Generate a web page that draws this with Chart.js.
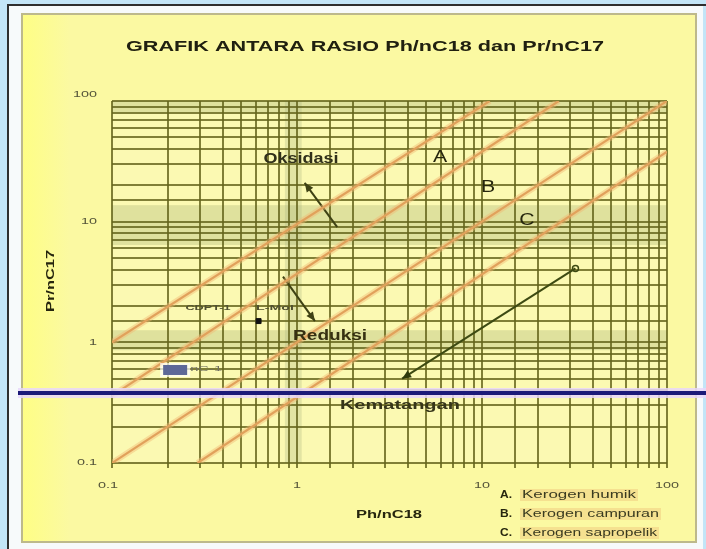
<!DOCTYPE html>
<html><head><meta charset="utf-8">
<script src="https://cdn.jsdelivr.net/npm/chart.js@4/dist/chart.umd.min.js"></script>
<style>
html,body{margin:0;padding:0;background:#c3e5f7;overflow:hidden}
canvas{display:block}
</style></head><body>
<canvas id="c" width="706" height="549"></canvas>
<script>
// ---- text ----
const titleText = 'GRAFIK ANTARA RASIO Ph/nC18 dan Pr/nC17';
const xTitle = 'Ph/nC18';
const yTitle = 'Pr/nC17';
const xTickValues = [0.1, 1, 10, 100];
const xTickLabels = ['0.1', '1', '10', '100'];
const yTickValues = [0.1, 1, 10, 100];
const yTickLabels = ['0.1', '1', '10', '100'];
const fieldLetters = ['A', 'B', 'C'];
const legendKeys = ['A.', 'B.', 'C.'];
const legendNames = ['Kerogen humik', 'Kerogen campuran', 'Kerogen sapropelik'];

// ---- boundary lines between kerogen fields, [Ph/nC18, Pr/nC17] ----
const boundary1 = [[0.1, 1], [11, 100]];
const boundary2 = [[0.1, 0.36], [26, 100]];
const boundary3 = [[0.1, 0.1], [100, 100]];
const boundary4 = [[0.29, 0.1], [100, 38]];

// ---- trend arrows, [tail, head] ----
const arrowOksidasi = [[1.65, 9.0], [1.1, 21]];
const arrowReduksi = [[0.84, 3.5], [1.25, 1.5]];
const arrowKematangan = [[32, 4.1], [3.7, 0.5]];

// ---- samples ----
const sampleX = [0.62];
const sampleY = [1.5];
const sampleNames = ['CDPT-1', 'L-Mol'];

// ---- shaded bands of the grid ----
const yBands = [[6.4, 13.7], [0.86, 1.26], [81, 100]];
const xBands = [[0.86, 1.06]];

const pts = arr => arr.map(([x, y]) => ({x, y}));
const gridColor = 'rgba(100,100,28,0.82)';
const ink = '#26260e';

function lineSet(data, color, width) {
  return {type: 'line', data: pts(data), borderColor: color, borderWidth: width,
    pointRadius: 0, fill: false, tension: 0};
}
const halo = 'rgba(242,185,115,0.45)';
const core = '#d38f48';
const arrowInk = '#3f4214';

const datasets = [];
[boundary1, boundary2, boundary3, boundary4].forEach(b => {
  datasets.push(lineSet(b, halo, 6));
  datasets.push(lineSet(b, core, 2.2));
});
datasets.push(lineSet(arrowOksidasi, arrowInk, 2));
datasets.push(lineSet(arrowReduksi, arrowInk, 2));
const kem = lineSet(arrowKematangan, '#3d4a12', 2);
kem.pointRadius = [3, 0]; kem.pointBackgroundColor = 'rgba(0,0,0,0)';
kem.pointBorderColor = '#3d4a12'; kem.pointBorderWidth = 1.5;
datasets.push(kem);
datasets.push({type: 'scatter', data: sampleX.map((x, i) => ({x, y: sampleY[i]})),
  pointStyle: 'rect', pointRadius: 3.5, backgroundColor: '#111', borderColor: '#111'});

function stext(ctx, txt, cx, cy, opt) {
  ctx.save();
  ctx.font = opt.font; ctx.fillStyle = opt.color || ink;
  ctx.textAlign = opt.align || 'center'; ctx.textBaseline = 'middle';
  const m = ctx.measureText(txt).width;
  ctx.translate(cx, cy);
  if (opt.rot) ctx.rotate(opt.rot);
  const sx = opt.w ? opt.w / m : (opt.sx || 1);
  ctx.scale(sx, 1);
  ctx.fillText(txt, 0, 0);
  ctx.restore();
}

function arrowHead(ctx, x0, y0, x1, y1, color) {
  const a = Math.atan2(y1 - y0, x1 - x0), L = 9, W = 4;
  ctx.save(); ctx.fillStyle = color; ctx.beginPath();
  ctx.moveTo(x1, y1);
  ctx.lineTo(x1 - L * Math.cos(a) + W * Math.sin(a), y1 - L * Math.sin(a) - W * Math.cos(a));
  ctx.lineTo(x1 - L * Math.cos(a) - W * Math.sin(a), y1 - L * Math.sin(a) + W * Math.cos(a));
  ctx.closePath(); ctx.fill(); ctx.restore();
}

const framePlugin = {
  id: 'frame',
  beforeDraw(chart) {
    const ctx = chart.ctx, a = chart.chartArea, sx = chart.scales.x, sy = chart.scales.y;
    ctx.save();
    ctx.fillStyle = '#c3e5f7'; ctx.fillRect(0, 0, 706, 549);
    ctx.fillStyle = '#f7fafb'; ctx.fillRect(9, 6, 694, 543);
    ctx.fillStyle = '#2e2e2e'; ctx.fillRect(7, 4, 2, 545); ctx.fillRect(7, 4, 699, 2);
    // yellow panel
    const g = ctx.createLinearGradient(21, 0, 70, 0);
    g.addColorStop(0, '#fefe84'); g.addColorStop(1, '#fbf9a2');
    ctx.fillStyle = g; ctx.fillRect(21, 13, 676, 530);
    ctx.strokeStyle = '#bdb98c'; ctx.lineWidth = 2; ctx.strokeRect(22, 14, 674, 528);
    // plot field
    ctx.fillStyle = '#fbf9b2'; ctx.fillRect(a.left, a.top, a.right - a.left, a.bottom - a.top);
    ctx.fillStyle = 'rgba(150,165,105,0.28)';
    yBands.forEach(([lo, hi]) => {
      const t = sy.getPixelForValue(hi), b = sy.getPixelForValue(lo);
      ctx.fillRect(a.left, t, a.right - a.left, b - t);
    });
    ctx.fillStyle = 'rgba(170,180,130,0.30)';
    xBands.forEach(([lo, hi]) => {
      const l = sx.getPixelForValue(lo), r = sx.getPixelForValue(hi);
      ctx.fillRect(l, a.top, r - l, a.bottom - a.top);
    });
    ctx.restore();
  },
  afterDatasetsDraw(chart) {
    const ctx = chart.ctx, a = chart.chartArea, sx = chart.scales.x, sy = chart.scales.y;
    const P = (x, y) => [sx.getPixelForValue(x), sy.getPixelForValue(y)];
    // arrow heads
    [[arrowOksidasi, arrowInk], [arrowReduksi, arrowInk], [arrowKematangan, '#2f3a0c']].forEach(([ar, c]) => {
      const [x0, y0] = P(ar[0][0], ar[0][1]), [x1, y1] = P(ar[1][0], ar[1][1]);
      arrowHead(ctx, x0, y0, x1, y1, c);
    });
    // field letters
    const letterPos = [[5.93, 34.3], [10.8, 19.4], [17.5, 10.3]];
    fieldLetters.forEach((t, i) => {
      const [x, y] = P(...letterPos[i]);
      stext(ctx, t, x, y, {font: '17px "Liberation Sans"', sx: 1.25});
    });
    // trend labels
    let p = P(1.05, 33);
    stext(ctx, 'Oksidasi', p[0], p[1], {font: 'bold 14px "Liberation Sans"', w: 75, color: '#30301a'});
    p = P(1.51, 1.13);
    stext(ctx, 'Reduksi', p[0], p[1], {font: 'bold 14px "Liberation Sans"', w: 74, color: '#363012'});
    p = P(3.6, 0.30);
    stext(ctx, 'Kematangan', p[0], p[1], {font: 'bold 12px "Liberation Sans"', w: 120, color: '#36361a'});
    // sample tags
    p = P(0.33, 1.92);
    stext(ctx, sampleNames[0], p[0], p[1], {font: 'bold 8px "Liberation Sans"', w: 45, color: '#505030'});
    p = P(0.76, 1.92);
    stext(ctx, sampleNames[1], p[0], p[1], {font: 'bold 8px "Liberation Sans"', w: 38, color: '#505030'});
    p = P(0.189, 0.59);
    ctx.save();
    ctx.fillStyle = 'rgba(255,255,255,0.7)'; ctx.fillRect(p[0] - 3, p[1] - 7, 30, 14);
    ctx.fillStyle = '#5d6898'; ctx.fillRect(p[0], p[1] - 5, 24, 10);
    ctx.restore();
    stext(ctx, 'nC-1', p[0] + 43, p[1] - 1, {font: '7px "Liberation Sans"', w: 32, color: '#707060'});

    // tick labels
    xTickValues.forEach((v, i) => {
      const x = sx.getPixelForValue(v) - (i === 0 ? 4 : 0);
      stext(ctx, xTickLabels[i], x, 486, {font: '9px "Liberation Sans"', sx: 1.6, color: '#56563a'});
    });
    yTickValues.forEach((v, i) => {
      const y = sy.getPixelForValue(v) - (v === 100 ? 6 : 0);
      stext(ctx, yTickLabels[i], 97, y, {font: '9px "Liberation Sans"', sx: 1.6, align: 'right', color: '#56563a'});
    });
    // axis titles and chart title
    stext(ctx, xTitle, 389, 515, {font: 'bold 11px "Liberation Sans"', w: 66});
    stext(ctx, yTitle, 51, 281, {font: 'bold 11px "Liberation Sans"', w: 62, rot: -Math.PI / 2});
    stext(ctx, titleText, 365, 47, {font: 'bold 14px "Liberation Sans"', w: 478, color: '#202010'});

    // legend
    const legendRows = [495, 514, 533], legendW = [114, 137, 135];
    legendRows.forEach((y, i) => {
      ctx.save(); ctx.fillStyle = 'rgba(240,205,130,0.55)';
      ctx.fillRect(520, y - 6, legendW[i] + 4, 12); ctx.restore();
      stext(ctx, legendKeys[i], 506, y, {font: 'bold 10px "Liberation Sans"', w: 12});
      stext(ctx, legendNames[i], 522, y, {font: '10px "Liberation Sans"', w: legendW[i], align: 'left', color: '#3a3a20'});
    });

    // horizontal marker line
    ctx.save();
    ctx.fillStyle = 'rgba(232,215,250,0.85)'; ctx.fillRect(18, 388, 688, 10);
    ctx.fillStyle = '#1c1a78'; ctx.fillRect(18, 391, 688, 4);
    ctx.restore();
  }
};

new Chart(document.getElementById('c'), {
  type: 'line',
  data: {datasets},
  options: {
    responsive: false, animation: false, devicePixelRatio: 1,
    layout: {padding: {left: 0, top: 101, right: 39, bottom: 0}},
    plugins: {legend: {display: false}, tooltip: {enabled: false}},
    scales: {
      x: {type: 'logarithmic', min: 0.1, max: 100, position: 'bottom',
        grid: {color: gridColor, lineWidth: 2, drawTicks: true, tickLength: 5, tickColor: gridColor},
        border: {display: false},
        ticks: {display: false, autoSkip: false},
        afterFit(s) { s.height = 86; }},
      y: {type: 'logarithmic', min: 0.1, max: 100, position: 'left',
        grid: {color: gridColor, lineWidth: 2, drawTicks: false},
        border: {display: false},
        ticks: {display: false, autoSkip: false},
        afterFit(s) { s.width = 112; }}
    }
  },
  plugins: [framePlugin]
});
</script>
</body></html>
